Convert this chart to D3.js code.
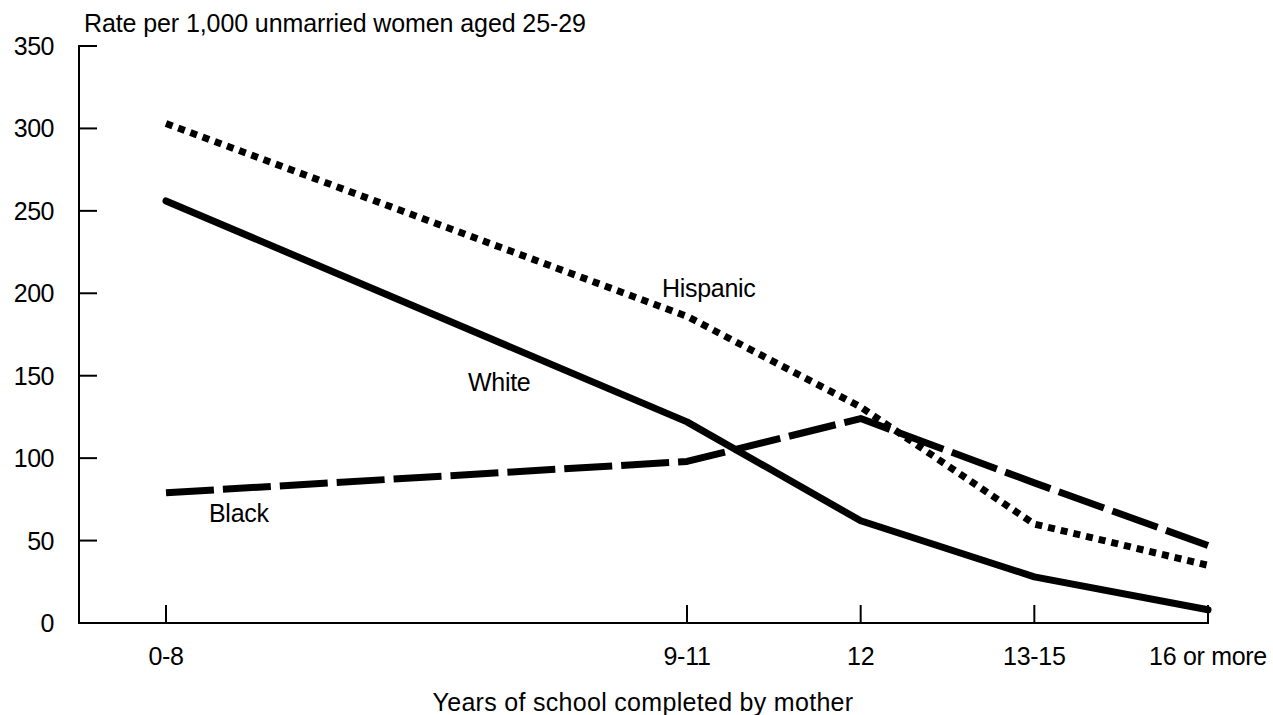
<!DOCTYPE html>
<html><head><meta charset="utf-8">
<script src="https://cdn.jsdelivr.net/npm/d3@7"></script>
<style>
body{margin:0;background:#fff;}
text{font-family:"Liberation Sans",Arial,sans-serif;fill:#000;}
</style></head>
<body><svg id="c" width="1273" height="715"></svg>
<script>
const categories = ["0-8","9-11","12","13-15","16 or more"];
const catPos = [0,3,4,5,6];
const white = [256,122,62,28,8];
const hispanic = [303,186,131,60,35];
const black = [79,98,124,85,47];
const yTicks = [0,50,100,150,200,250,300,350];
const yTitle = "Rate per 1,000 unmarried women aged 25-29";
const xTitle = "Years of school completed by mother";

const svg = d3.select("#c");
const x = d3.scaleLinear().domain([0,6]).range([166,1208]);
const y = d3.scaleLinear().domain([0,350]).range([623,46]);
const axisX0 = 79;
const fs = 25;

svg.append("line").attr("x1",axisX0).attr("x2",axisX0).attr("y1",y(350)-1).attr("y2",y(0)+1).attr("stroke","#000").attr("stroke-width",2);
svg.append("line").attr("x1",axisX0).attr("x2",x(6)+1).attr("y1",y(0)).attr("y2",y(0)).attr("stroke","#000").attr("stroke-width",2);

yTicks.forEach(t=>{
  svg.append("line").attr("x1",axisX0).attr("x2",axisX0+18).attr("y1",y(t)).attr("y2",y(t)).attr("stroke","#000").attr("stroke-width",2);
  svg.append("text").attr("x",54).attr("y",y(t)+9).attr("text-anchor","end").attr("font-size",fs).attr("letter-spacing",-0.5).text(t);
});
categories.forEach((c,i)=>{
  svg.append("line").attr("x1",x(catPos[i])).attr("x2",x(catPos[i])).attr("y1",y(0)-18).attr("y2",y(0)).attr("stroke","#000").attr("stroke-width",2);
  svg.append("text").attr("x",x(catPos[i])).attr("y",665).attr("text-anchor","middle").attr("font-size",fs).attr("letter-spacing",-0.3).text(c);
});
svg.append("text").attr("x",84).attr("y",32).attr("font-size",fs).attr("letter-spacing",-0.1).text(yTitle);
svg.append("text").attr("x",643).attr("y",711).attr("text-anchor","middle").attr("font-size",fs).attr("letter-spacing",0.3).text(xTitle);

const line = d3.line().x((d,i)=>x(catPos[i])).y(d=>y(d));
svg.append("path").datum(black).attr("d",line).attr("fill","none").attr("stroke","#000").attr("stroke-width",7).attr("stroke-dasharray","48,9").attr("stroke-linejoin","round");
svg.append("path").datum(hispanic).attr("d",line).attr("fill","none").attr("stroke","#000").attr("stroke-width",7).attr("stroke-dasharray","7,6").attr("stroke-linejoin","round");
svg.append("path").datum(white).attr("d",line).attr("fill","none").attr("stroke","#000").attr("stroke-width",7).attr("stroke-linecap","round").attr("stroke-linejoin","round");

svg.append("text").attr("x",662).attr("y",297).attr("font-size",fs).attr("letter-spacing",-0.3).text("Hispanic");
svg.append("text").attr("x",468).attr("y",391).attr("font-size",fs).attr("letter-spacing",-0.3).text("White");
svg.append("text").attr("x",209).attr("y",522).attr("font-size",fs).attr("letter-spacing",-0.3).text("Black");
</script></body></html>
